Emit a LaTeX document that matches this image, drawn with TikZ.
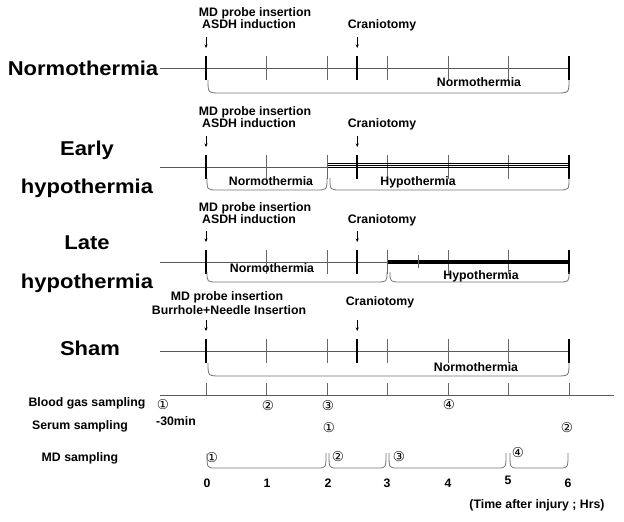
\documentclass[tikz,border=0pt]{standalone}
\usepackage{fontspec}
\setmainfont{Liberation Sans}
\newfontfamily\circfont{DejaVu Sans}
\usetikzlibrary{arrows.meta}
\newcommand\tlrow[1]{%
  \draw[axisln] (160,#1) -- (569,#1);
  \foreach \t in {1,2,3,4,5} \draw[tk] ({206+60.5*\t},{#1-12}) -- ({206+60.5*\t},{#1+12});
  \foreach \t in {0,2.5,6} \draw[thk] ({206+60.5*\t},{#1-12}) -- ({206+60.5*\t},{#1+12});
  \draw[arr] (206,{#1-31}) -- (206,{#1-20});
  \draw[arr] (357.25,{#1-31}) -- (357.25,{#1-20});
}
\newcommand\bracepath[5]{% x0 x1 ytop ybot r
  \draw[brc] (#1,#3) .. controls (#1,#4) .. ({#1+#5},#4) -- ({#2-#5},#4) .. controls (#2,#4) .. (#2,#3);}
\begin{document}
\begin{tikzpicture}[x=1pt,y=-1pt,
  big/.style={font=\fontsize{20}{22}\selectfont\bfseries, inner sep=0pt},
  lbl/.style={font=\fontsize{12.3}{14}\selectfont\bfseries, inner sep=0pt},
  axisln/.style={draw=black!65, line width=0.8pt},
  tk/.style={draw=black!60, line width=0.7pt},
  thk/.style={draw=black, line width=2.4pt},
  brc/.style={draw=black!55, line width=0.8pt},
  arr/.style={-{Stealth[length=3.5pt,width=3pt]}, line width=0.6pt},
  circ/.style={font=\circfont\fontsize{13.5}{14}\selectfont, inner sep=0pt}]
\useasboundingbox (0,0) rectangle (624,522);

% ---------- Normothermia ----------
\tlrow{68}
\node[big] (gN) at (83,68) {\scalebox{1.1}[1]{Normothermia}};
\node[lbl] (nmd) at (255,13) {MD probe insertion};
\node[lbl] (nasdh) at (249,24) {ASDH induction};
\node[lbl] (ncr) at (382,25) {Craniotomy};
\bracepath{208}{569}{80}{93}{13}
\node[lbl] (nnorm) at (479,82) {Normothermia};

% ---------- Early hypothermia ----------
\tlrow{167}
\draw[line width=0.6pt] (328,162.9) -- (569,162.9);
\draw[line width=0.6pt] (328,165.1) -- (569,165.1);
\draw[line width=0.6pt] (328,167.3) -- (569,167.3);
\foreach \t in {2.5,6} \draw[thk] ({206+60.5*\t},155) -- ({206+60.5*\t},179);
\node[big] (gE1) at (87,150) {\scalebox{1.1}[1]{Early}};
\node[big] (gE2) at (87,188) {\scalebox{1.1}[1]{hypothermia}};
\node[lbl] (emd) at (255,112) {MD probe insertion};
\node[lbl] (easdh) at (249,123) {ASDH induction};
\node[lbl] (ecr) at (382,124) {Craniotomy};
\bracepath{207}{327}{178}{190}{11}
\bracepath{330}{569}{178}{190}{11}
\node[lbl] (enorm) at (271,181) {Normothermia};
\node[lbl] (ehypo) at (418,182) {Hypothermia};

% ---------- Late hypothermia ----------
\tlrow{262}
\draw[line width=3.6pt] (388,262) -- (569,262);
\draw[tk] (418,255) -- (418,268);
\draw[thk] (569,250) -- (569,274);
\node[big] (gL1) at (87,243) {\scalebox{1.1}[1]{Late}};
\node[big] (gL2) at (87,283) {\scalebox{1.1}[1]{hypothermia}};
\node[lbl] (lmd) at (255,208) {MD probe insertion};
\node[lbl] (lasdh) at (249,219) {ASDH induction};
\node[lbl] (lcr) at (382,220) {Craniotomy};
\bracepath{207}{387}{272}{282}{11}
\bracepath{390}{569}{272}{282}{11}
\node[lbl] (lnorm) at (272,268) {Normothermia};
\node[lbl] (lhypo) at (481,276) {Hypothermia};

% ---------- Sham ----------
\tlrow{351}
\node[big] (gS) at (90,348) {\scalebox{1.1}[1]{Sham}};
\node[lbl] (smd) at (227,297) {MD probe insertion};
\node[lbl] (sbur) at (229,310) {Burrhole+Needle Insertion};
\node[lbl] (scr) at (380,302) {Craniotomy};
\bracepath{208}{569}{363}{376}{13}
\node[lbl] (snorm) at (476,367) {Normothermia};

% ---------- Sampling axis ----------
\draw[axisln] (160,395) -- (614,395);
\foreach \t in {0,1,2,3,4,5,6} \draw[tk] ({206+60.5*\t},383) -- ({206+60.5*\t},395);
\node[lbl] (bgs) at (87,403) {Blood gas sampling};
\node[lbl] (ss) at (80,426) {Serum sampling};
\node[lbl] (mds) at (80,458) {MD sampling};

\node[circ] (b1) at (163,405) {①};
\node[lbl] (m30) at (176,421) {-30min};
\node[circ] (b2) at (268,406) {②};
\node[circ] (b3) at (328,406) {③};
\node[circ] (b4) at (449,405) {④};
\node[circ] (s1) at (329,428) {①};
\node[circ] (s2) at (567,428) {②};
\node[circ] (d1) at (212,458) {①};
\node[circ] (d2) at (338,457) {②};
\node[circ] (d3) at (399,457) {③};
\node[circ] (d4) at (518,453) {④};

\bracepath{207}{326}{453}{468}{8}
\bracepath{329}{386}{453}{468}{8}
\bracepath{389}{506}{453}{468}{8}
\bracepath{510}{568}{453}{468}{8}

\node[lbl] (h0) at (207,483) {0};
\node[lbl] (h1) at (267,483) {1};
\node[lbl] (h2) at (328,483) {2};
\node[lbl] (h3) at (387,483) {3};
\node[lbl] (h4) at (448,483) {4};
\node[lbl] (h5) at (508,480) {5};
\node[lbl] (h6) at (568,483) {6};
\node[lbl] (tl) at (537,505) {(Time after injury ; Hrs)};
\end{tikzpicture}
\end{document}
